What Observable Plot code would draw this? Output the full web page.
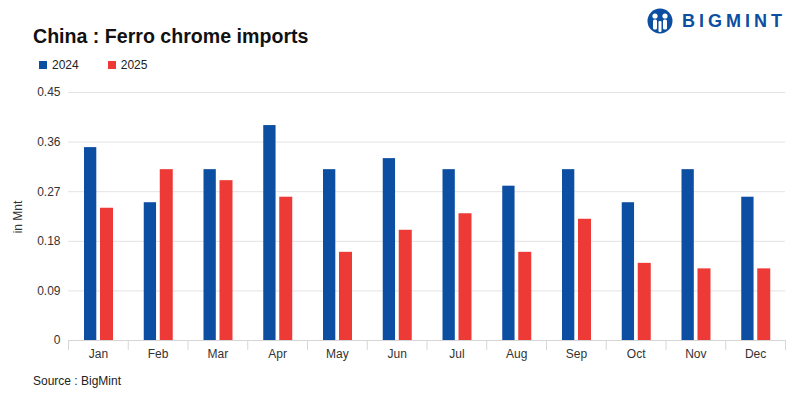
<!DOCTYPE html>
<html>
<head>
<meta charset="utf-8">
<script src="https://cdn.jsdelivr.net/npm/d3@7"></script>
<script src="https://cdn.jsdelivr.net/npm/@observablehq/plot@0.6"></script>
<style>
  html, body { margin: 0; padding: 0; background: #fff; }
  #wrap { position: relative; width: 800px; height: 399px; overflow: hidden; font-family: "Liberation Sans", Arial, sans-serif; }
  #title { position: absolute; left: 33px; top: 25px; font-size: 19.6px; font-weight: bold; color: #111; white-space: nowrap; }
  #legend { position: absolute; left: 39px; top: 58px; font-size: 12px; color: #222; display: flex; }
  .item { display: flex; align-items: center; margin-right: 29px; }
  .sw { width: 8px; height: 8px; margin-right: 5px; }
  #source { position: absolute; left: 33px; top: 374px; font-size: 12px; color: #222; }
  #ylabel { position: absolute; left: 18px; top: 217px; font-size: 12px; color: #333; transform: translate(-50%, -50%) rotate(-90deg); white-space: nowrap; }
  #logo { position: absolute; left: 647px; top: 8px; display: flex; align-items: center; }
  #logo span { font-size: 18px; font-weight: bold; color: #0b4ea2; letter-spacing: 4px; margin-left: 9px; }
  #chart { position: absolute; left: 0; top: 0; }
</style>
</head>
<body>
<div id="wrap">
  <div id="chart"></div>
  <div id="title">China : Ferro chrome imports</div>
  <div id="legend"></div>
  <div id="ylabel">in Mnt</div>
  <div id="logo">
    <svg width="26" height="26" viewBox="0 0 26 26">
      <circle cx="13" cy="13" r="12.5" fill="#0b4ea2"/>
      <circle cx="8" cy="8" r="2.6" fill="#fff"/>
      <circle cx="18" cy="8" r="2.6" fill="#fff"/>
      <rect x="6" y="11.5" width="4" height="10" rx="1.5" fill="#fff"/>
      <rect x="16" y="11.5" width="4" height="10" rx="1.5" fill="#fff"/>
      <rect x="11.5" y="13" width="3" height="11" rx="1" fill="#fff"/>
    </svg>
    <span>BIGMINT</span>
  </div>
  <div id="source">Source : BigMint</div>
</div>
<script>
const months = ["Jan","Feb","Mar","Apr","May","Jun","Jul","Aug","Sep","Oct","Nov","Dec"];
const series = ["2024", "2025"];
const values2024 = [0.35, 0.25, 0.31, 0.39, 0.31, 0.33, 0.31, 0.28, 0.31, 0.25, 0.31, 0.26];
const values2025 = [0.24, 0.31, 0.29, 0.26, 0.16, 0.20, 0.23, 0.16, 0.22, 0.14, 0.13, 0.13];
const yTicks = [0, 0.09, 0.18, 0.27, 0.36, 0.45];
const colors = ["#0b4ea2", "#ee3a36"];

const legend = document.getElementById("legend");
series.forEach((s, i) => {
  const it = document.createElement("div");
  it.className = "item";
  it.innerHTML = `<div class="sw" style="background:${colors[i]}"></div><div>${s}</div>`;
  legend.appendChild(it);
});

const d2024 = months.map((m, i) => ({month: m, value: values2024[i]}));
const d2025 = months.map((m, i) => ({month: m, value: values2025[i]}));

const W = 800, H = 399, mL = 68, mR = 15, mT = 92, mB = 59;
const bw = (W - mL - mR) / months.length;

const chart = Plot.plot({
  width: W,
  height: H,
  marginLeft: mL,
  marginRight: mR,
  marginTop: mT,
  marginBottom: mB,
  style: {fontFamily: "Liberation Sans, Arial, sans-serif", fontSize: "12px", color: "#333", background: "transparent"},
  x: {domain: months, padding: 0, round: false, tickSize: 0, tickPadding: 9, label: null},
  y: {domain: [0, 0.45], ticks: yTicks, tickFormat: d => d === 0 ? "0" : d3.format(".2f")(d), tickSize: 0, tickPadding: 8, label: null},
  marks: [
    Plot.ruleY(yTicks.filter(d => d > 0), {stroke: "#e3e3e3", strokeWidth: 1}),
    Plot.barY(d2024, {x: "month", y: "value", fill: colors[0], insetLeft: 16, insetRight: bw - 28.3}),
    Plot.barY(d2025, {x: "month", y: "value", fill: colors[1], insetLeft: 32, insetRight: bw - 45}),
    Plot.ruleY([0], {stroke: "#d6d6d6", strokeWidth: 1}),
    Plot.ruleX(months, {x: d => d, y1: 0, y2: -0.018, dx: -bw / 2, stroke: "#d6d6d6"}),
    Plot.ruleX(months.slice(-1), {x: d => d, y1: 0, y2: -0.018, dx: bw / 2, stroke: "#d6d6d6"})
  ]
});
document.getElementById("chart").appendChild(chart);
</script>
</body>
</html>
